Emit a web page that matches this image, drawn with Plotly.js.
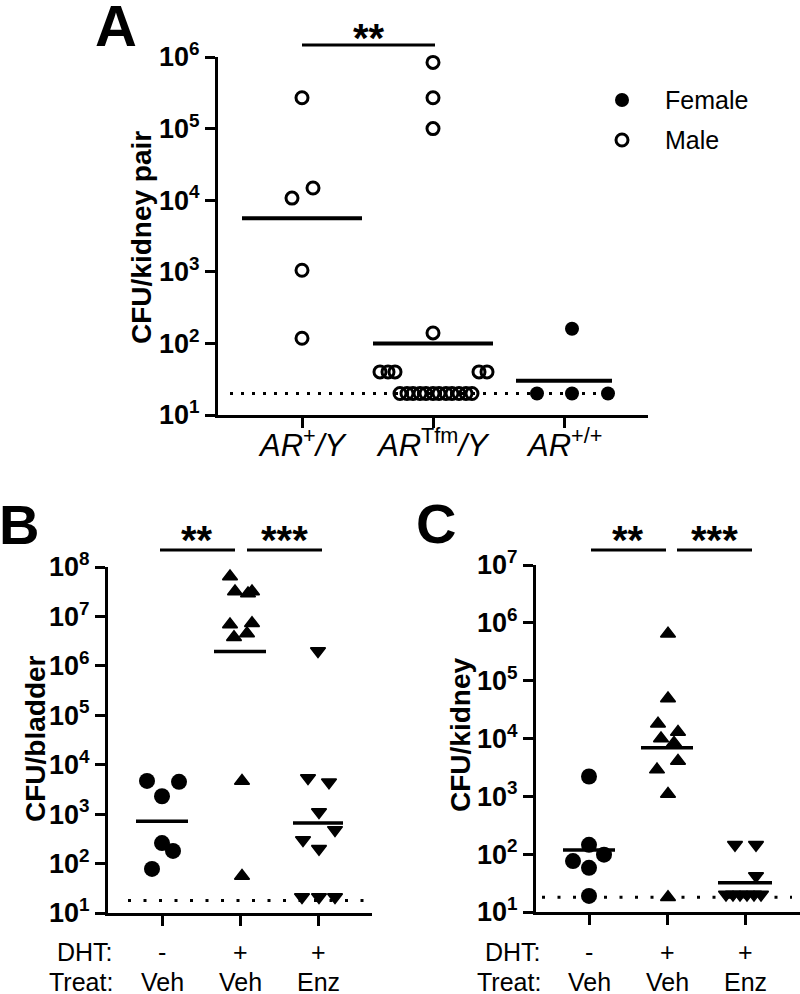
<!DOCTYPE html>
<html><head><meta charset="utf-8">
<script src="https://cdn.plot.ly/plotly-3.0.1.min.js"></script>
<style>html,body{margin:0;padding:0;background:#fff}#chart{width:800px;height:994px}</style>
</head><body><div id="chart"></div>
<script>
// ---------------- DATA ----------------
// Panel A: CFU per kidney pair
const aCategories = ['AR+/Y', 'ARTfm/Y', 'AR+/+'];
const aTickLabels = ['<i>AR</i><sup>+</sup><i>/Y</i>', '<i>AR</i><sup>Tfm</sup><i>/Y</i>', '<i>AR</i><sup>+/+</sup>'];
const aMaleARY = [270000, 14800, 10700, 1050, 118];
const aMaleTfm = [840000, 270000, 100000, 140, 40, 40, 40, 40, 40,
                  20, 20, 20, 20, 20, 20, 20, 20, 20, 20, 20, 20];
const aFemaleWT = [160, 20, 20, 20];
const aMeans = [5600, 100, 30];
const aLimit = 20;

// Panel B: CFU per bladder
const bcCategories = ['Veh', 'DHT+Veh', 'DHT+Enz'];
const dhtLabels = ['-', '+', '+'];
const treatLabels = ['Veh', 'Veh', 'Enz'];
const bVeh = [4700, 4500, 2300, 260, 180, 78];
const bDhtVeh = [64000000, 32000000, 29000000, 32000000, 6900000, 7300000, 3800000, 4500000, 4700, 56];
const bDhtEnz = [2000000, 5400, 4400, 1100, 480, 300, 200, 21, 21, 21];
const bMeans = [720, 1950000, 660];
const bLimit = 18;

// Panel C: CFU per kidney
const cVeh = [2200, 145, 76, 98, 58, 19];
const cDhtVeh = [650000, 49000, 18000, 13000, 10000, 8400, 4100, 2900, 1100, 18];
const cDhtEnz = [145, 145, 42, 20, 20, 20, 20, 20, 20];
const cMeans = [118, 6900, 32];
const cLimit = 18;

const legendNames = ['Female', 'Male'];
const sigA = ['**'];
const sigBC = ['**', '***'];

// ---------------- LAYOUT HELPERS (positions/styles) ----------------
const W = 800, H = 994;
const px = x => x / W;
const py = y => 1 - y / H;
const FONT = 'Liberation Sans, Arial, Helvetica, sans-serif';

const geo = {
  A: {left: 218, right: 648, bottom: 415, top: 57, cat0: 302, step: 131, lo: 1, hi: 6},
  B: {left: 108, right: 372, bottom: 913, top: 567, cat0: 162, step: 78, lo: 1, hi: 8},
  C: {left: 536, right: 800, bottom: 912, top: 565, cat0: 589, step: 78, lo: 1, hi: 7}
};
// horizontal scatter (jitter) of points inside each column, in pixels
const jitter = {
  A0: [0, 11, -10, 0, 0],
  A1: [0, 0, 0, 0, -53, -45, -38, 46, 54, -33, -26, -20, -13, -7, 0, 6, 13, 19, 26, 33, 39],
  A2: [8, -27, 8, 44],
  B0: [-15, 17, 0, 0, 11, -10],
  B1: [-10, -5, 8, 12, -10, 12, -6, 7, 2, 2],
  B2: [0, -10, 11, 1, 17, -15, 1, -16, 1, 17],
  C0: [0, 0, -16, 15, 0, 0],
  C1: [1, 1, -9, 11, -6, 7, 11, -10, 1, 1],
  C2: [-10, 11, 11, -19, -12, -5, 2, 9, 16]
};
const meanHalf = {A: [60, 60, 48], B: [26, 26, 25], C: [26, 26, 27]};
const dotSpan = {A: [230, 612], B: [128, 365], C: [542, 792]};

function xs(panel, cat, offs) {
  const g = geo[panel];
  return offs.map(o => cat + o / g.step);
}
function pxToCat(panel, x) { const g = geo[panel]; return (x - g.cat0) / g.step; }

function markersTrace(panel, axes, cat, vals, offs, marker) {
  return {x: xs(panel, cat, offs), y: vals, type: 'scatter', mode: 'markers',
          xaxis: axes[0], yaxis: axes[1], marker: marker, cliponaxis: false,
          showlegend: false, hoverinfo: 'y'};
}
function meansTrace(panel, axes, means, width) {
  const x = [], y = [];
  means.forEach((m, i) => {
    const h = meanHalf[panel][i] / geo[panel].step;
    x.push(i - h, i + h, null); y.push(m, m, null);
  });
  return {x, y, type: 'scatter', mode: 'lines', xaxis: axes[0], yaxis: axes[1],
          line: {color: '#000', width: width}, showlegend: false, hoverinfo: 'skip', cliponaxis: false};
}
function limitTrace(panel, axes, lim, dash) {
  const s = dotSpan[panel];
  return {x: [pxToCat(panel, s[0]), pxToCat(panel, s[1])], y: [lim, lim], type: 'scatter', mode: 'lines',
          xaxis: axes[0], yaxis: axes[1], line: {color: '#000', width: 3, dash: dash},
          showlegend: false, hoverinfo: 'skip', cliponaxis: false};
}

const openCircle = {symbol: 'circle-open', size: 12, color: '#000', line: {color: '#000', width: 3}};
const fillCircleA = {symbol: 'circle', size: 14, color: '#000', line: {width: 0}};
const fillCircle = {symbol: 'circle', size: 16, color: '#000', line: {width: 0}};
const triUp = {symbol: 'triangle-up', size: 13, color: '#000', line: {color: '#000', width: 1.5}};
const triDown = {symbol: 'triangle-down', size: 13, color: '#000', line: {color: '#000', width: 1.5}};

const traces = [
  limitTrace('A', ['x', 'y'], aLimit, '3px,8px'),
  markersTrace('A', ['x', 'y'], 0, aMaleARY, jitter.A0, openCircle),
  markersTrace('A', ['x', 'y'], 1, aMaleTfm, jitter.A1, openCircle),
  markersTrace('A', ['x', 'y'], 2, aFemaleWT, jitter.A2, fillCircleA),
  meansTrace('A', ['x', 'y'], aMeans, 4),

  limitTrace('B', ['x2', 'y2'], bLimit, '3px,12.5px'),
  markersTrace('B', ['x2', 'y2'], 0, bVeh, jitter.B0, fillCircle),
  markersTrace('B', ['x2', 'y2'], 1, bDhtVeh, jitter.B1, triUp),
  markersTrace('B', ['x2', 'y2'], 2, bDhtEnz, jitter.B2, triDown),
  meansTrace('B', ['x2', 'y2'], bMeans, 3.5),

  limitTrace('C', ['x3', 'y3'], cLimit, '3px,12.5px'),
  markersTrace('C', ['x3', 'y3'], 0, cVeh, jitter.C0, fillCircle),
  markersTrace('C', ['x3', 'y3'], 1, cDhtVeh, jitter.C1, triUp),
  markersTrace('C', ['x3', 'y3'], 2, cDhtEnz, jitter.C2, triDown),
  meansTrace('C', ['x3', 'y3'], cMeans, 3.5),

  // legend symbols on a pixel overlay axis
  {x: [622], y: [100], type: 'scatter', mode: 'markers', xaxis: 'x4', yaxis: 'y4',
   marker: fillCircleA, showlegend: false, hoverinfo: 'skip', name: legendNames[0]},
  {x: [622], y: [140], type: 'scatter', mode: 'markers', xaxis: 'x4', yaxis: 'y4',
   marker: openCircle, showlegend: false, hoverinfo: 'skip', name: legendNames[1]}
];

function decadeTicks(lo, hi) {
  const v = [], t = [];
  for (let e = lo; e <= hi; e++) { v.push(Math.pow(10, e)); t.push('10<sup>' + e + '</sup>'); }
  return {v, t};
}

function yAxis(panel, anchor) {
  const g = geo[panel];
  const tk = decadeTicks(g.lo, g.hi);
  return {type: 'log', range: [g.lo, g.hi], domain: [py(g.bottom), py(g.top)], anchor: anchor,
          showline: true, linewidth: 3, linecolor: '#000', ticks: 'outside', ticklen: 10, tickwidth: 3,
          tickcolor: '#000', tickmode: 'array', tickvals: tk.v, ticktext: tk.t,
          tickfont: {family: FONT, size: 27, color: '#000', weight: 'bold'},
          showgrid: false, zeroline: false, fixedrange: true};
}
function xAxis(panel, anchor, labels) {
  const g = geo[panel];
  return {domain: [px(g.left), px(g.right)], range: [pxToCat(panel, g.left), pxToCat(panel, g.right)],
          anchor: anchor, showline: true, linewidth: 3, linecolor: '#000', ticks: 'outside', ticklen: 10,
          tickwidth: 3, tickcolor: '#000', tickmode: 'array', tickvals: [0, 1, 2],
          ticktext: labels, showticklabels: false,
          showgrid: false, zeroline: false, fixedrange: true};
}

const annotations = [];
function txt(x, y, text, size, opts) {
  annotations.push(Object.assign({xref: 'paper', yref: 'paper', x: px(x), y: py(y), text: text,
    showarrow: false, xanchor: 'center', yanchor: 'middle',
    font: {family: FONT, size: size, color: '#000'}}, opts || {}));
}
// panel letters
txt(93, 26, 'A', 58, {xanchor: 'left', font: {family: FONT, size: 58, color: '#000', weight: 'bold'}});
txt(-3, 524, 'B', 56, {xanchor: 'left', font: {family: FONT, size: 56, color: '#000', weight: 'bold'}});
txt(414, 523, 'C', 56, {xanchor: 'left', font: {family: FONT, size: 56, color: '#000', weight: 'bold'}});
// axis titles
const titleFont = {family: FONT, size: 28, color: '#000', weight: 'bold'};
txt(141, 238, 'CFU/kidney pair', 28, {textangle: -90, font: titleFont});
txt(35, 739, 'CFU/bladder', 28, {textangle: -90, font: titleFont});
txt(460, 735, 'CFU/kidney', 28, {textangle: -90, font: titleFont});
// panel A category labels
aTickLabels.forEach((t, i) => annotations.push({xref: 'x', yref: 'paper', x: i, y: py(443), text: t,
  showarrow: false, xanchor: 'center', yanchor: 'middle', font: {family: FONT, size: 31, color: '#000'}}));
// legend labels
txt(663, 100, legendNames[0], 25, {xanchor: 'left'});
txt(663, 140, legendNames[1], 25, {xanchor: 'left'});
// significance stars
const starFont = {family: FONT, size: 40, color: '#000', weight: 'bold'};
txt(369, 38, sigA[0], 40, {font: starFont});
txt(197, 540, sigBC[0], 40, {font: starFont});
txt(284, 540, sigBC[1], 40, {font: starFont});
txt(628, 540, sigBC[0], 40, {font: starFont});
txt(714, 540, sigBC[1], 40, {font: starFont});
// treatment rows under B and C
txt(115, 952, 'DHT:', 25, {xanchor: 'right'});
txt(115, 982, 'Treat:', 25, {xanchor: 'right'});
txt(543, 952, 'DHT:', 25, {xanchor: 'right'});
txt(543, 982, 'Treat:', 25, {xanchor: 'right'});
['x2', 'x3'].forEach(xr => {
  dhtLabels.forEach((t, i) => annotations.push({xref: xr, yref: 'paper', x: i, y: py(952), text: t,
    showarrow: false, xanchor: 'center', yanchor: 'middle', font: {family: FONT, size: 25, color: '#000'}}));
  treatLabels.forEach((t, i) => annotations.push({xref: xr, yref: 'paper', x: i, y: py(982), text: t,
    showarrow: false, xanchor: 'center', yanchor: 'middle', font: {family: FONT, size: 25, color: '#000'}}));
});

function bar(x0, x1, y) {
  return {type: 'line', xref: 'paper', yref: 'paper', x0: px(x0), x1: px(x1), y0: py(y), y1: py(y),
          line: {color: '#000', width: 3}};
}
const shapes = [bar(302, 435, 45), bar(160, 235, 550), bar(247, 322, 550), bar(591, 666, 550), bar(677, 752, 550)];

const layout = {
  width: W, height: H, margin: {l: 0, r: 0, t: 0, b: 0, pad: 0},
  paper_bgcolor: '#fff', plot_bgcolor: 'rgba(0,0,0,0)', showlegend: false,
  font: {family: FONT, color: '#000'},
  xaxis: xAxis('A', 'y', aCategories),
  yaxis: yAxis('A', 'x'),
  xaxis2: xAxis('B', 'y2', bcCategories),
  yaxis2: yAxis('B', 'x2'),
  xaxis3: xAxis('C', 'y3', bcCategories),
  yaxis3: yAxis('C', 'x3'),
  xaxis4: {domain: [0, 1], range: [0, W], anchor: 'y4', visible: false, fixedrange: true},
  yaxis4: {domain: [0, 1], range: [H, 0], anchor: 'x4', visible: false, fixedrange: true},
  annotations: annotations, shapes: shapes
};

Plotly.newPlot('chart', traces, layout, {staticPlot: true, displayModeBar: false});
</script></body></html>
